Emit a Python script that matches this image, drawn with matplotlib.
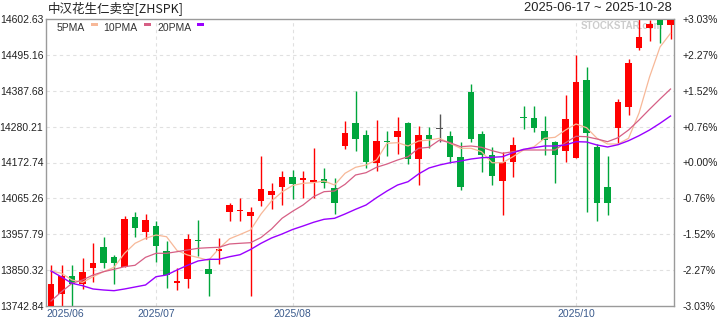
import numpy as np
import matplotlib.pyplot as plt
from matplotlib.patches import Rectangle
from matplotlib.transforms import blended_transform_factory

plt.rcParams['font.family'] = ['Liberation Sans', 'Noto Sans CJK SC', 'DejaVu Sans']

title = "中汉花生仁卖空[ZHSPK]"
date_range = "2025-06-17 ~ 2025-10-28"

# daily OHLC, one entry per candle (left to right)
opens = [13742.84, 13777.9, 13832.7, 13807.8, 13857.6, 13919.6, 13889.6, 13860.6, 14009.5, 13963.6,
         13982.5, 13907.6, 13810.8, 13824.6, 13941.5, 13853.7, 13907.6, 14025.3, 14028.3, 14013.4,
         14058.3, 14076.3, 14100.2, 14129.3, 14122.4, 14114.3, 14123.3, 14096.3, 14223.1, 14291.1,
         14255.1, 14172.1, 14237.1, 14249.1, 14291.1, 14184.1, 14255.1, 14275.2, 14252.1, 14189.2,
         14383.9, 14258.1, 14195.2, 14118.2, 14175.1, 14309.0, 14306.1, 14267.1, 14235.1, 14208.1,
         14187.1, 14419.9, 14219.2, 14099.3, 14277.0, 14339.9, 14516.7, 14576.6, 14600.0, 14583.8]
closes = [13809.6, 13832.7, 13807.8, 13844.7, 13871.6, 13871.6, 13871.6, 14003.5, 13977.4, 14000.5,
          13923.5, 13835.7, 13817.7, 13943.6, 13938.5, 13839.6, 13913.6, 14045.4, 14030.4, 14024.4,
          14093.3, 14087.4, 14129.3, 14109.2, 14124.2, 14120.3, 14111.3, 14052.3, 14261.1, 14244.0,
          14175.1, 14237.1, 14235.1, 14267.1, 14184.1, 14255.1, 14244.0, 14275.2, 14190.1, 14100.2,
          14244.0, 14196.1, 14133.2, 14174.2, 14225.2, 14306.9, 14277.0, 14241.6, 14196.1, 14303.1,
          14413.9, 14262.0, 14052.3, 14052.3, 14354.0, 14470.8, 14548.7, 14586.8, 14583.8, 14600.5]
highs = [13866.6, 13866.6, 13866.6, 13886.6, 13931.6, 13949.6, 13895.6, 14012.5, 14024.4, 14018.5,
         13997.5, 13937.6, 13855.8, 13958.5, 14000.5, 13882.7, 13945.7, 14050.5, 14066.4, 14039.4,
         14192.2, 14111.3, 14147.3, 14150.3, 14147.3, 14216.2, 14156.3, 14126.3, 14297.1, 14386.9,
         14270.1, 14300.1, 14267.1, 14309.0, 14294.1, 14282.1, 14279.1, 14318.0, 14267.1, 14234.2,
         14407.9, 14267.1, 14219.2, 14203.3, 14249.1, 14342.0, 14342.0, 14312.0, 14238.0, 14375.0,
         14494.8, 14458.8, 14229.1, 14192.2, 14363.0, 14482.8, 14602.63, 14599.6, 14602.63, 14602.63]
lows = [13742.84, 13742.84, 13742.84, 13794.7, 13815.6, 13857.6, 13809.6, 13860.6, 13950.4, 13943.6,
        13875.6, 13795.3, 13790.8, 13797.7, 13892.6, 13773.7, 13868.7, 13998.4, 13998.4, 13773.7,
        14043.3, 14034.3, 14046.3, 14064.3, 14067.3, 14067.3, 14097.2, 14019.4, 14214.1, 14208.1,
        14157.2, 14148.2, 14193.1, 14199.1, 14169.1, 14106.2, 14217.1, 14234.2, 14172.1, 14091.3,
        14235.1, 14145.2, 14106.2, 14016.4, 14130.2, 14274.0, 14265.0, 14196.1, 14112.2, 14175.1,
        14187.1, 14025.3, 13998.4, 14016.4, 14229.1, 14315.9, 14510.7, 14537.6, 14531.6, 14543.6]

# moving averages as drawn on the chart
ma5 = [13847.7, 13840.8, 13820.7, 13813.8, 13830.6, 13845.6, 13858.8, 13900.7, 13930.7, 13945.7,
       13955.5, 13950.4, 13909.1, 13895.6, 13888.1, 13879.7, 13915.1, 13944.2, 13957.0, 13970.5,
       14018.5, 14057.4, 14084.4, 14103.8, 14110.4, 14112.2, 14117.3, 14105.3, 14140.4, 14158.3,
       14165.2, 14180.2, 14230.3, 14232.1, 14222.2, 14237.1, 14240.1, 14245.2, 14230.3, 14215.3,
       14215.3, 14205.1, 14172.1, 14172.1, 14190.1, 14210.2, 14220.1, 14245.2, 14248.2, 14270.1,
       14288.1, 14277.0, 14245.2, 14228.2, 14228.2, 14245.2, 14321.0, 14428.9, 14518.8, 14559.8]
ma10 = [13757.8, 13785.7, 13810.8, 13820.7, 13835.7, 13845.6, 13852.8, 13860.6, 13864.8, 13888.7,
        13900.7, 13900.7, 13905.5, 13910.6, 13915.7, 13917.5, 13918.7, 13928.6, 13930.7, 13932.5,
        13948.1, 13973.5, 14005.6, 14026.5, 14045.4, 14070.3, 14085.3, 14087.4, 14107.4, 14135.3,
        14142.2, 14158.4, 14168.2, 14180.2, 14190.1, 14215.3, 14218.3, 14240.1, 14232.1, 14220.1,
        14222.2, 14218.3, 14208.1, 14200.3, 14205.1, 14210.2, 14210.2, 14210.2, 14210.2, 14232.1,
        14251.2, 14250.0, 14243.1, 14235.1, 14247.0, 14270.1, 14300.1, 14332.1, 14363.0, 14392.9]
ma20 = [13847.7, 13829.7, 13810.8, 13803.7, 13793.8, 13790.8, 13788.7, 13793.8, 13799.8, 13805.8,
        13830.6, 13835.7, 13850.7, 13864.8, 13877.7, 13882.7, 13882.7, 13890.5, 13896.5, 13912.1,
        13930.7, 13946.6, 13958.5, 13972.0, 13982.5, 13993.6, 14002.6, 14005.6, 14018.5, 14032.5,
        14045.4, 14067.3, 14087.4, 14105.3, 14115.2, 14138.3, 14156.3, 14165.2, 14172.1, 14177.2,
        14183.2, 14187.1, 14188.3, 14190.1, 14202.1, 14212.3, 14217.1, 14222.2, 14222.2, 14225.2,
        14235.1, 14234.2, 14225.2, 14219.2, 14226.1, 14238.0, 14253.0, 14270.1, 14290.2, 14312.0]

price_labels = ["14602.63", "14495.16", "14387.68", "14280.21", "14172.74",
                "14065.26", "13957.79", "13850.32", "13742.84"]
pct_labels = ["+3.03%", "+2.27%", "+1.52%", "+0.76%", "+0.00%",
              "-0.76%", "-1.52%", "-2.27%", "-3.03%"]
month_labels = ["2025/06", "2025/07", "2025/08", "2025/10"]
month_idx = [0, 10, 23, 50]

RED = "#ff0000"
GREEN = "#00a63c"
GRAY = "#555555"
MA_COLORS = {"5PMA": "#f7b898", "10PMA": "#d65f85", "20PMA": "#9a00ff"}


def fx(px):
    return px / 720


def fy(py):
    return 1 - py / 320


def main() -> None:
    fig = plt.figure(figsize=(7.2, 3.2), dpi=100)
    ax = fig.add_axes([fx(46), fy(306), 628 / 720, 287 / 320])

    o = np.array(opens)
    c = np.array(closes)
    h = np.array(highs)
    lo = np.array(lows)
    x = np.arange(len(c))

    ymin, ymax = lo.min(), h.max()
    ax.set_xlim(-0.48, len(c) - 0.67)
    ax.set_ylim(ymin, ymax)

    ticks = np.linspace(ymax, ymin, len(price_labels))
    for t in ticks[1:-1]:
        ax.axhline(t, color="#e0e0e0", lw=0.8, ls=(0, (3, 3)), zorder=0)
    for i in month_idx[1:]:
        ax.axvline(i, color="#e0e0e0", lw=0.8, ls=(0, (3, 3)), zorder=0)

    # watermark
    ax.text(fx(622), fy(26), "STOCKSTAR.com", transform=fig.transFigure,
            ha="center", va="center", fontsize=7, fontweight="bold",
            color="#cccccc", zorder=1)

    cols = np.where(c > o, RED, np.where(c < o, GREEN, GRAY))
    ax.vlines(x, lo, h, colors=cols, lw=1, zorder=2)
    mid = (o + c) / 2
    body = np.maximum(np.abs(c - o), 4.0)
    ax.bar(x, body, bottom=mid - body / 2, width=0.64, color=cols, lw=0, zorder=3)

    ax.plot(x, ma5, color=MA_COLORS["5PMA"], lw=0.9, zorder=4)
    ax.plot(x, ma10, color=MA_COLORS["10PMA"], lw=0.9, zorder=4)
    ax.plot(x, ma20, color=MA_COLORS["20PMA"], lw=1.0, zorder=4)

    for s in ax.spines.values():
        s.set_color("#9a9a9a")
        s.set_linewidth(1)

    ax.set_yticks(ticks)
    ax.set_yticklabels(price_labels)
    ax.tick_params(axis="y", length=0, pad=2, labelsize=7.5, labelcolor="#222222")
    ax.set_xticks([])

    ax2 = ax.twinx()
    ax2.set_ylim(ymin, ymax)
    ax2.set_yticks(ticks)
    ax2.set_yticklabels(pct_labels)
    ax2.tick_params(axis="y", length=0, pad=6, labelsize=7.5, labelcolor="#222222")
    for s in ax2.spines.values():
        s.set_visible(False)

    trans = blended_transform_factory(ax.transData, ax.transAxes)
    for lab, i in zip(month_labels, month_idx):
        if i == 0:
            ax.text(0.0, -0.012, lab, transform=ax.transAxes, ha="left", va="top",
                    fontsize=7.5, color="#3a5a8c")
        else:
            ax.text(i, -0.012, lab, transform=trans, ha="center", va="top",
                    fontsize=7.5, color="#3a5a8c")

    fig.text(fx(48), fy(8), title, ha="left", va="center", fontsize=9,
             color="#222222", family=["Noto Sans CJK SC", "DejaVu Sans"])
    fig.text(fx(672), fy(8), date_range, ha="right", va="center", fontsize=9.3,
             color="#222222")

    # legend
    legend_pos = [("5PMA", 57, 91), ("10PMA", 103, 144), ("20PMA", 157, 197)]
    for name, tx, sx in legend_pos:
        fig.text(fx(tx), fy(28), name, ha="left", va="center", fontsize=7.5,
                 color="#333333")
        fig.patches.append(Rectangle((fx(sx), fy(26)), 7 / 720, 3 / 320,
                                     transform=fig.transFigure,
                                     color=MA_COLORS[name], lw=0))

    fig.savefig("out.png", dpi=100)


if __name__ == "__main__":
    main()
